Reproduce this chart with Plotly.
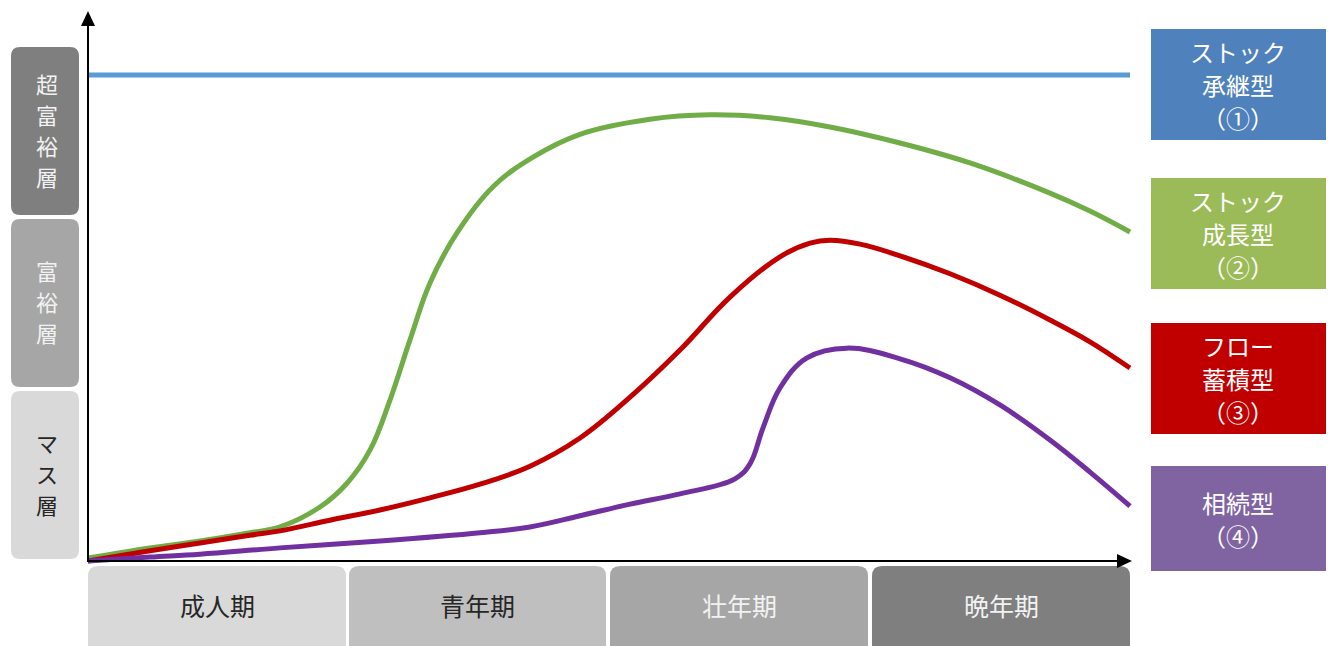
import plotly.graph_objects as go

# ---- data (conceptual units: x = life stage 0..100, y = wealth 0..100) ----
stock_inherit_x = [0, 100]
stock_inherit_y = [100, 100]

stock_growth_x = [0, 5.95, 10.75, 15.55, 18.43, 22.26, 24.86, 27.06, 28.98, 30.90, 32.82, 35.41,
                  38.87, 42.71, 47.22, 53.93, 59.69, 65.45, 71.21, 77.93, 84.64, 92.32, 96.16, 100]
stock_growth_y = [0.6, 2.7, 4.1, 5.8, 7.0, 11.1, 16.0, 22.8, 33.1, 45.5, 57.2, 67.5,
                  77.0, 83.1, 87.8, 90.9, 91.8, 91.2, 89.3, 86.0, 81.9, 75.7, 72.0, 67.7]

flow_x = [0, 5.95, 10.75, 15.55, 18.43, 23.22, 28.02, 32.82, 37.62, 42.42, 47.22, 52.02,
          56.81, 61.61, 66.41, 69.29, 71.21, 74.09, 77.93, 82.73, 87.52, 92.32, 96.16, 100]
flow_y = [0, 2.1, 3.7, 5.3, 6.2, 8.4, 10.5, 13.0, 15.8, 19.5, 25.3, 33.7,
          43.4, 54.3, 62.6, 65.4, 66.0, 65.2, 62.8, 59.1, 54.7, 49.6, 45.1, 39.7]

inherit_x = [0, 5.95, 10.75, 18.43, 28.02, 37.62, 42.42, 47.22, 52.02, 56.81, 62.09, 63.53,
             64.78, 66.41, 69.00, 72.84, 77.93, 82.73, 87.52, 92.32, 96.16, 100]
inherit_y = [0, 0.8, 1.4, 2.7, 4.1, 5.8, 7.0, 9.3, 11.7, 13.8, 16.9, 20.0,
             27.4, 35.6, 41.8, 43.8, 41.6, 37.7, 32.1, 24.9, 18.3, 11.3]

tiers = ["超富裕層", "富裕層", "マス層"]
stages = ["成人期", "青年期", "壮年期", "晩年期"]
types = [["ストック", "承継型", "（①）"], ["ストック", "成長型", "（②）"],
         ["フロー", "蓄積型", "（③）"], ["相続型", "（④）"]]

# ---- pixel <-> data mapping (layout) ----
W, H = 1332, 646
OX, OY = 88, 561          # origin in px
SX = (1130 - 88) / 100.0  # px per x unit
SY = (561 - 75) / 100.0   # px per y unit


def X(px):
    return (px - OX) / SX


def Y(py):
    return (OY - py) / SY


def rrect(x0, y0, x1, y1, r):
    pts = [("M", x0 + r, y0), ("L", x1 - r, y0), ("Q", x1, y0, x1, y0 + r),
           ("L", x1, y1 - r), ("Q", x1, y1, x1 - r, y1), ("L", x0 + r, y1),
           ("Q", x0, y1, x0, y1 - r), ("L", x0, y0 + r), ("Q", x0, y0, x0 + r, y0)]
    s = ""
    for p in pts:
        cmd = p[0]
        coords = p[1:]
        parts = []
        for i in range(0, len(coords), 2):
            parts.append(f"{X(coords[i]):.4f},{Y(coords[i+1]):.4f}")
        s += cmd + " " + " ".join(parts) + " "
    return s + "Z"


fig = go.Figure()

line_specs = [
    (stock_inherit_x, stock_inherit_y, "#5b9bd5", "linear"),
    (stock_growth_x, stock_growth_y, "#70ad47", "spline"),
    (flow_x, flow_y, "#c00000", "spline"),
    (inherit_x, inherit_y, "#7030a0", "spline"),
]

shapes = []
annotations = []
FONT = "Noto Sans CJK JP"

# left tier boxes (vertical text, one character per annotation)
tier_boxes = [(47, 215, "#7f7f7f", "#f2f2f2"), (219, 387, "#a6a6a6", "#f2f2f2"),
              (391, 559, "#d9d9d9", "#262626")]
CH = 31
for name, (y0, y1, fc, tc) in zip(tiers, tier_boxes):
    shapes.append(dict(type="path", path=rrect(11, y0, 79, y1, 9), xref="x", yref="y",
                       fillcolor=fc, line=dict(width=0), layer="below"))
    yc = (y0 + y1) / 2 - 2
    n = len(name)
    for i, ch in enumerate(name):
        annotations.append(dict(x=X(47), y=Y(yc + (i - (n - 1) / 2) * CH), xref="x", yref="y",
                                text=ch, showarrow=False, borderpad=0,
                                font=dict(family=FONT, size=22, color=tc)))

# bottom stage boxes
stage_boxes = [(88, 346, "#d9d9d9", "#262626"), (349, 606, "#bfbfbf", "#262626"),
               (610, 868, "#a6a6a6", "#f2f2f2"), (872, 1130, "#7f7f7f", "#f2f2f2")]
for name, (x0, x1, fc, tc) in zip(stages, stage_boxes):
    shapes.append(dict(type="path", path=rrect(x0, 566, x1, 680, 10), xref="x", yref="y",
                       fillcolor=fc, line=dict(width=0), layer="below"))
    annotations.append(dict(x=X((x0 + x1) / 2), y=Y(605), xref="x", yref="y",
                            text=name, showarrow=False,
                            font=dict(family=FONT, size=25, color=tc)))

# right type boxes (one annotation per line)
type_boxes = [(29, 140, "#4f81bd"), (178, 289, "#9bbb59"), (323, 434, "#c00000"), (466, 571, "#8064a2")]
LH = 33
for lines, (y0, y1, fc) in zip(types, type_boxes):
    shapes.append(dict(type="rect", x0=X(1151), x1=X(1326), y0=Y(y0), y1=Y(y1), xref="x", yref="y",
                       fillcolor=fc, line=dict(width=0), layer="below"))
    yc = (y0 + y1) / 2
    n = len(lines)
    for i, t in enumerate(lines):
        annotations.append(dict(x=X(1238), y=Y(yc + (i - (n - 1) / 2) * LH), xref="x", yref="y",
                                text=t, showarrow=False, borderpad=0,
                                font=dict(family=FONT, size=24, color="#ffffff")))

for xs, ys, col, shp in line_specs:
    fig.add_trace(go.Scatter(x=xs, y=ys, mode="lines",
                             line=dict(color=col, width=5, shape=shp, smoothing=1.1),
                             hoverinfo="skip", showlegend=False))

# axes with arrowheads
shapes.append(dict(type="line", x0=X(88), x1=X(88), y0=Y(562), y1=Y(24), xref="x", yref="y",
                   line=dict(color="#000000", width=2)))
shapes.append(dict(type="path", path=f"M {X(81)},{Y(26)} L {X(95)},{Y(26)} L {X(88)},{Y(11)} Z",
                   xref="x", yref="y", fillcolor="#000000", line=dict(width=0)))
shapes.append(dict(type="line", x0=X(87), x1=X(1120), y0=Y(561), y1=Y(561), xref="x", yref="y",
                   line=dict(color="#000000", width=2)))
shapes.append(dict(type="path", path=f"M {X(1117)},{Y(554)} L {X(1117)},{Y(568)} L {X(1132)},{Y(561)} Z",
                   xref="x", yref="y", fillcolor="#000000", line=dict(width=0)))

fig.update_layout(
    width=W, height=H,
    margin=dict(l=0, r=0, t=0, b=0),
    paper_bgcolor="#ffffff", plot_bgcolor="#ffffff",
    xaxis=dict(range=[X(0), X(W)], visible=False, fixedrange=True),
    yaxis=dict(range=[Y(H), Y(0)], visible=False, fixedrange=True),
    shapes=shapes, annotations=annotations,
    showlegend=False,
)

fig.write_html("out.html", config={"displayModeBar": False})
